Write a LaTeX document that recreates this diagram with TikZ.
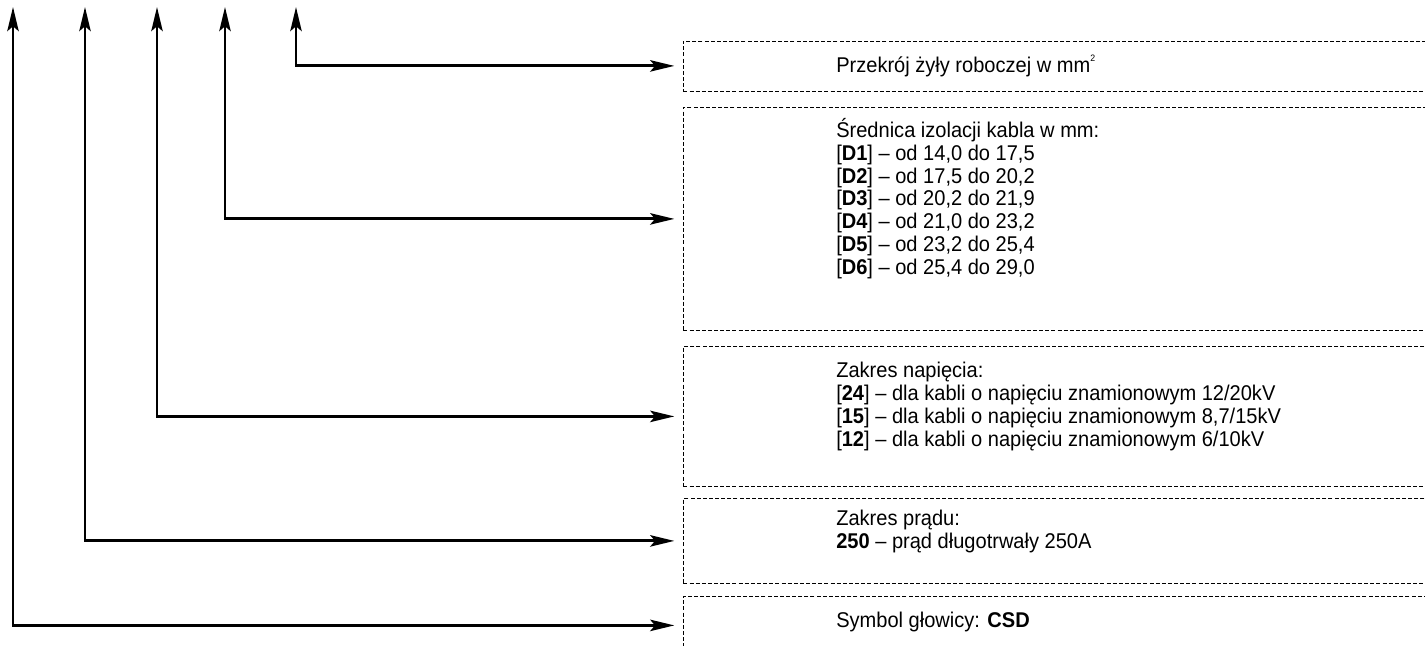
\documentclass[tikz,border=0pt]{standalone}
\usepackage{fontspec}
\setmainfont{Liberation Sans}[FakeStretch=0.94]
\usetikzlibrary{arrows.meta}

\begin{document}
\begin{tikzpicture}[x=0.75pt,y=-0.75pt,
		ramka/.style={draw,line width=0.6pt,dash pattern=on 3pt off 1.6pt,anchor=north west,inner sep=0pt,minimum width=568pt},
		opis/.style={anchor=west,align=left,inner sep=0pt,font=\fontsize{16}{17.1}\selectfont},
		strzalka/.style={{Stealth[length=18pt,width=8.5pt,inset=3.5pt]}-{Stealth[length=18pt,width=8.5pt,inset=3.5pt]},line width=2.2pt,shorten >=6.5pt}]
			
			\useasboundingbox (0,0) rectangle (1425,646);
			\clip (0,0) rectangle (1425,646);
			
			% Boxes
			\node[ramka,minimum height=37.5pt] (przekroj) at (683,40.5) {};
			\node[ramka,minimum height=167.25pt] (srednica) at (683,107) {};
			\node[ramka,minimum height=105pt] (napiecie) at (683,346) {};
			\node[ramka,minimum height=63.75pt] (prad) at (683,498) {};
			\node[ramka,minimum height=52.5pt] (symbol) at (683,596) {};
			
			% Texts
			\node[opis] (przekrojTxt) at (836,66) {Przekrój żyły roboczej w mm\raisebox{0.95ex}{\fontsize{7}{7}\selectfont 2}};
			\node[opis,anchor=north west] (srednicaTxt) at (836,118) {Średnica izolacji kabla w mm:\\
				{[}\textbf{D1}] – od 14,0 do 17,5\\
				{[}\textbf{D2}] – od 17,5 do 20,2\\
				{[}\textbf{D3}] – od 20,2 do 21,9\\
				{[}\textbf{D4}] – od 21,0 do 23,2\\
				{[}\textbf{D5}] – od 23,2 do 25,4\\
				{[}\textbf{D6}] – od 25,4 do 29,0};
			\node[opis,anchor=north west] (napiecieTxt) at (836,362) {Zakres napięcia:\\
				{[}\textbf{24}] – dla kabli o napięciu znamionowym 12/20kV\\
				{[}\textbf{15}] – dla kabli o napięciu znamionowym 8,7/15kV\\
				{[}\textbf{12}] – dla kabli o napięciu znamionowym 6/10kV};
			\node[opis,anchor=north west] (pradTxt) at (836,510) {Zakres prądu:\\
				\textbf{250} – prąd długotrwały 250A};
			\node[opis] (symbolTxt) at (836,622) {Symbol głowicy: \textbf{CSD}};
			
			% Arrow ends at the top
			\coordinate (t1) at (13,7);
			\coordinate (t2) at (85,7);
			\coordinate (t3) at (157,7);
			\coordinate (t4) at (225,7);
			\coordinate (t5) at (296,7);
			
			% Arrows
			\draw[strzalka] (t5) |- (przekroj.west);
			\draw[strzalka] (t4) |- (srednica.west);
			\draw[strzalka] (t3) |- (napiecie.west);
			\draw[strzalka] (t2) |- (prad.west);
			\draw[strzalka] (t1) |- ([yshift=4.5pt]symbol.west);
			
		\end{tikzpicture}
\end{document}
